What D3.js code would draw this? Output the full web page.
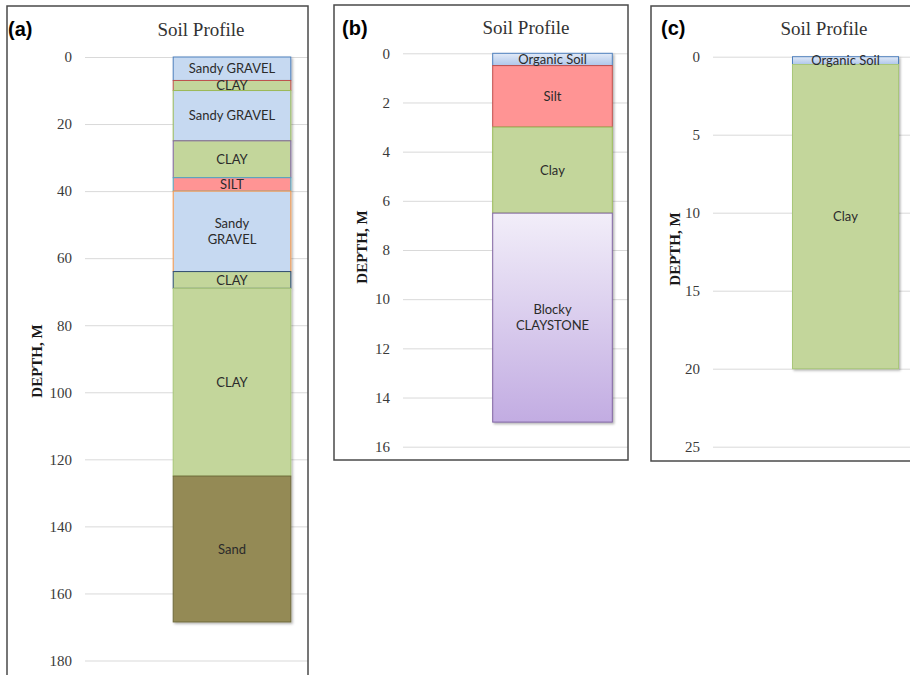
<!DOCTYPE html>
<html>
<head>
<meta charset="utf-8">
<script src="https://cdn.jsdelivr.net/npm/d3@7"></script>
<style>
  body { margin: 0; background: #fff; }
  svg { display: block; }
</style>
</head>
<body>
<svg id="chart" width="910" height="675"></svg>
<script>
// ---- Profile (a): deep borehole ----
const layersA = ["Sandy GRAVEL", "CLAY", "Sandy GRAVEL", "CLAY", "SILT", "Sandy\nGRAVEL", "CLAY", "CLAY", "Sand"];
const soilA = ["gravel", "clay", "gravel", "clay", "silt", "gravel", "clay", "clay", "sand"];
const thicknessA = [7, 3, 15, 11, 4, 24, 5, 56, 43.5];
const ticksA = [0, 20, 40, 60, 80, 100, 120, 140, 160, 180];

// ---- Profile (b) ----
const layersB = ["Organic Soil", "Silt", "Clay", "Blocky\nCLAYSTONE"];
const soilB = ["organic", "silt", "clay", "claystone"];
const thicknessB = [0.5, 2.5, 3.5, 8.5];
const ticksB = [0, 2, 4, 6, 8, 10, 12, 14, 16];

// ---- Profile (c) ----
const layersC = ["Organic Soil", "Clay"];
const soilC = ["organic", "clay"];
const thicknessC = [0.5, 19.5];
const ticksC = [0, 5, 10, 15, 20, 25];

const panelTitle = "Soil Profile";
const axisTitle = "DEPTH, M";

// ---- styling ----
const soilFill = {
  gravel: "#c6d9f1",
  clay: "#c3d69b",
  silt: "#ff9494",
  sand: "#948a54",
  organic: "url(#gradOrganic)",
  claystone: "url(#gradClaystone)"
};
const strokesA = ["#4f81bd", "#c0504d", "#9bbb59", "#8064a2", "#4bacc6", "#f79646", "#2c4d75", "#a9c77a", "#6f6a3c"];
const strokesB = ["#4f81bd", "#c0504d", "#9bbb59", "#8064a2"];
const strokesC = ["#4f81bd", "#a9c77a"];

const svg = d3.select("#chart");
const defs = svg.append("defs");

function vGradient(id, top, bottom) {
  const g = defs.append("linearGradient").attr("id", id)
    .attr("x1", 0).attr("y1", 0).attr("x2", 0).attr("y2", 1);
  g.append("stop").attr("offset", "0%").attr("stop-color", top);
  g.append("stop").attr("offset", "100%").attr("stop-color", bottom);
}
vGradient("gradOrganic", "#e2eaf7", "#aec6ea");
vGradient("gradClaystone", "#f2eef9", "#c2ace2");

const shadow = defs.append("filter").attr("id", "barShadow")
  .attr("x", "-10%").attr("y", "-10%").attr("width", "130%").attr("height", "130%");
shadow.append("feDropShadow").attr("dx", 1.5).attr("dy", 1.5)
  .attr("stdDeviation", 1.2).attr("flood-color", "#000").attr("flood-opacity", 0.3);

const panels = [
  { key: "a", letter: "(a)", layers: layersA, soil: soilA, thick: thicknessA, ticks: ticksA, strokes: strokesA,
    frame: [7, 6, 301, 720], plotX: [85, 379], plotY: [57, 660.5],
    titleX: 201, titleY: 36, letterX: 8, letterY: 36, axisX: 42, axisY: 361 },
  { key: "b", letter: "(b)", layers: layersB, soil: soilB, thick: thicknessB, ticks: ticksB, strokes: strokesB,
    frame: [334, 5, 294, 455], plotX: [403, 702], plotY: [53.3, 446.7],
    titleX: 526, titleY: 34, letterX: 342, letterY: 35, axisX: 367, axisY: 247 },
  { key: "c", letter: "(c)", layers: layersC, soil: soilC, thick: thicknessC, ticks: ticksC, strokes: strokesC,
    frame: [651, 6, 300, 455], plotX: [713, 978], plotY: [56.7, 446.7],
    titleX: 824, titleY: 35, letterX: 661, letterY: 35, axisX: 680, axisY: 249 }
];

panels.forEach(p => {
  const [fx, fy, fw, fh] = p.frame;
  const clipId = "clip-" + p.key;
  defs.append("clipPath").attr("id", clipId)
    .append("rect").attr("x", fx).attr("y", fy).attr("width", fw).attr("height", fh);

  const g = svg.append("g");
  const inner = g.append("g").attr("clip-path", `url(#${clipId})`);

  const y = d3.scaleLinear()
    .domain([p.ticks[0], p.ticks[p.ticks.length - 1]])
    .range(p.plotY);
  const x = d3.scaleBand()
    .domain([panelTitle])
    .range(p.plotX)
    .paddingInner(0)
    .paddingOuter(0.75);

  // gridlines + depth ticks
  const axis = d3.axisLeft(y)
    .tickValues(p.ticks)
    .tickFormat(d3.format("d"))
    .tickSize(-(p.plotX[1] - p.plotX[0]))
    .tickPadding(13);
  const ax = inner.append("g")
    .attr("transform", `translate(${p.plotX[0]},0)`)
    .call(axis)
    .attr("font-family", "'Liberation Serif', 'Times New Roman', serif")
    .attr("font-size", 15);
  ax.select(".domain").remove();
  ax.selectAll(".tick line").attr("stroke", "#d9d9d9").attr("stroke-width", 1);
  ax.selectAll(".tick text").attr("fill", "#3a3a3a");

  // stacked layers
  const ends = d3.cumsum(p.thick);
  const rows = p.layers.map((name, i) => ({
    name, soil: p.soil[i], top: ends[i] - p.thick[i], bottom: ends[i], stroke: p.strokes[i]
  }));

  const bar = inner.append("g").attr("filter", "url(#barShadow)");
  bar.selectAll("rect")
    .data(rows)
    .join("rect")
    .attr("x", x(panelTitle))
    .attr("width", x.bandwidth())
    .attr("y", d => y(d.top))
    .attr("height", d => y(d.bottom) - y(d.top))
    .attr("fill", d => soilFill[d.soil])
    .attr("stroke", d => d.stroke)
    .attr("stroke-width", 1);

  // layer names
  const lineH = 16;
  const lbl = inner.append("g")
    .style("font-family", "Lato, 'Open Sans', sans-serif")
    .style("font-size", "13px")
    .attr("fill", "#2b2b2b")
    .attr("text-anchor", "middle");
  rows.forEach(d => {
    const lines = d.name.split("\n");
    const cy = (y(d.top) + y(d.bottom)) / 2;
    const cx = x(panelTitle) + x.bandwidth() / 2;
    const t = lbl.append("text")
      .attr("x", cx)
      .attr("y", cy - (lines.length - 1) * lineH / 2);
    lines.forEach((ln, k) => {
      t.append("tspan")
        .attr("x", cx)
        .attr("dy", k === 0 ? "0.36em" : lineH)
        .text(ln);
    });
  });

  // frame
  g.append("rect")
    .attr("x", fx).attr("y", fy).attr("width", fw).attr("height", fh)
    .attr("fill", "none").attr("stroke", "#4a4a4a").attr("stroke-width", 1.5);

  // chart title
  g.append("text")
    .attr("x", p.titleX).attr("y", p.titleY)
    .attr("text-anchor", "middle")
    .attr("fill", "#333")
    .style("font-family", "'Liberation Serif', 'Times New Roman', serif")
    .style("font-size", "19px")
    .text(panelTitle);

  // panel letter
  g.append("text")
    .attr("x", p.letterX).attr("y", p.letterY)
    .attr("fill", "#000")
    .style("font-family", "'Liberation Sans', Arial, sans-serif")
    .style("font-weight", "bold")
    .style("font-size", "20px")
    .text(p.letter);

  // depth axis title
  g.append("text")
    .attr("transform", `translate(${p.axisX},${p.axisY}) rotate(-90)`)
    .attr("text-anchor", "middle")
    .attr("fill", "#1a1a1a")
    .style("font-family", "'Liberation Serif', 'Times New Roman', serif")
    .style("font-weight", "bold")
    .style("font-size", "15px")
    .text(axisTitle);
});
</script>
</body>
</html>
